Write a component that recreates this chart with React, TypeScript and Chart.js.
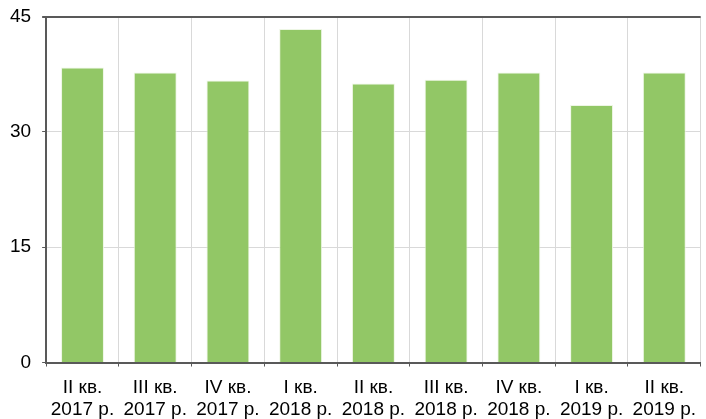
import React, { useEffect, useRef } from "react";
import { Chart, registerables } from "chart.js";

Chart.register(...registerables);

const quarters = ["II кв.", "III кв.", "IV кв.", "I кв.", "II кв.", "III кв.", "IV кв.", "I кв.", "II кв."];
const years = ["2017 р.", "2017 р.", "2017 р.", "2018 р.", "2018 р.", "2018 р.", "2018 р.", "2019 р.", "2019 р."];
const values = [38.4, 37.75, 36.7, 43.4, 36.3, 36.8, 37.75, 33.5, 37.75];
const yTicks = [0, 15, 30, 45];

export default function App() {
  const ref = useRef<HTMLCanvasElement | null>(null);
  useEffect(() => {
    document.body.style.margin = "0";
    const family = "'Liberation Sans', Arial, sans-serif";
    const xFont = { family, size: 19, lineHeight: 1.17 };
    const yFont = { family, size: 19, lineHeight: 0.6 };
    const chart = new Chart(ref.current!, {
      type: "bar",
      data: {
        labels: quarters.map((q, i) => [q, years[i]]),
        datasets: [
          {
            data: values,
            backgroundColor: "#92c766",
            borderColor: "rgba(235,245,225,0.9)",
            borderWidth: 1,
            barPercentage: 0.59,
            categoryPercentage: 1,
          },
        ],
      },
      options: {
        animation: false,
        responsive: false,
        maintainAspectRatio: false,
        layout: { padding: { top: 0, right: 0, left: -1, bottom: -12 } },
        plugins: { legend: { display: false }, tooltip: { enabled: false } },
        scales: {
          x: {
            offset: true,
            grid: {
              offset: true,
              color: "#d9d9d9",
              lineWidth: 1,
              drawTicks: true,
              tickLength: 4,
              tickColor: "#595959",
            },
            border: { display: true, color: "#595959", width: 2 },
            ticks: { color: "#000", font: xFont, padding: 10, maxRotation: 0, autoSkip: false },
          },
          y: {
            min: 0,
            max: 45,
            afterBuildTicks: (axis: any) => {
              axis.ticks = yTicks.map((v) => ({ value: v }));
            },
            grid: {
              color: (ctx: any) => (ctx.tick && (ctx.tick.value === 45) ? "#595959" : "#d9d9d9"),
              lineWidth: (ctx: any) => (ctx.tick && ctx.tick.value === 45 ? 2 : 1),
              tickLength: 4,
              tickColor: "#595959",
            },
            border: { display: true, color: "#595959", width: 2 },
            ticks: { color: "#000", font: yFont, padding: 11 },
          },
        },
      },
    });
    return () => chart.destroy();
  }, []);
  return <canvas ref={ref} width={706} height={419} style={{ display: "block" }} />;
}
